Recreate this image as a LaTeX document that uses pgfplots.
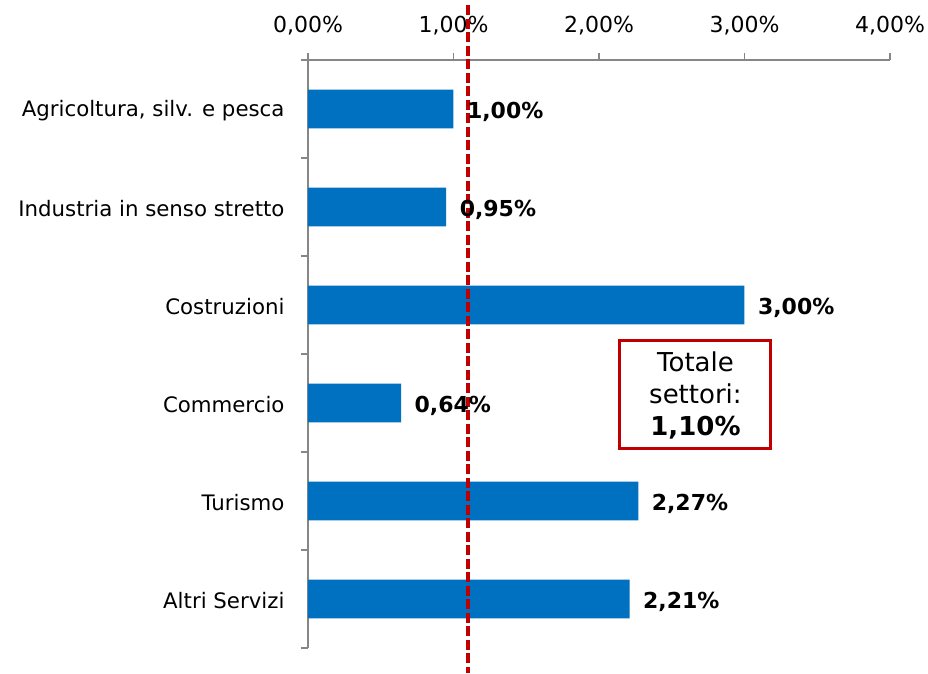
\documentclass[border=0pt]{standalone}
\usepackage{pgfplots}
\pgfplotsset{compat=1.18}
\usepackage{fontspec}
\setmainfont{DejaVu Sans}
\definecolor{barblue}{HTML}{0070C0}
\definecolor{axgray}{HTML}{868686}
\definecolor{refred}{HTML}{C00000}
\begin{document}
\begin{tikzpicture}
\begin{axis}[
  scale only axis, width=582pt, height=588pt,
  xmin=0, xmax=4, ymin=-0.5, ymax=5.5, y dir=reverse,
  axis x line*=top, axis y line*=left,
  axis line style={axgray, line width=1.7pt},
  tick align=outside, major tick length=7pt,
  tick style={axgray, line width=1.7pt},
  xtick={0,1,2,3,4},
  xticklabels={{0,00\%},{1,00\%},{2,00\%},{3,00\%},{4,00\%}},
  xticklabel style={font=\fontsize{22}{26}\selectfont, yshift=14pt},
  ytick={-0.5,0.5,1.5,2.5,3.5,4.5,5.5},
  yticklabels={},
  extra y ticks={0,1,2,3,4,5},
  extra y tick labels={{Agricoltura, silv. e pesca},{Industria in senso stretto},{Costruzioni},{Commercio},{Turismo},{Altri Servizi}},
  extra y tick style={tick style={draw=none}, yticklabel style={font=\fontsize{21.3}{25}\selectfont, xshift=-13pt, yshift=-2pt}},
  clip=false,
]
\addplot[xbar, bar width=38.7pt, fill=barblue, draw=none,
  point meta=x,
  nodes near coords={\pgfmathprintnumber[fixed,fixed zerofill,precision=2,use comma,assume math mode=true]{\pgfplotspointmeta}\%},
  nodes near coords align={horizontal},
  every node near coord/.append style={font=\bfseries\fontsize{22}{26}\selectfont, black, anchor=west, xshift=10pt, yshift=-2.5pt}]
  coordinates {(1.00,0) (0.95,1) (3.00,2) (0.64,3) (2.27,4) (2.21,5)};
\addplot[sharp plot, refred, line width=3.5pt, dash pattern=on 10pt off 3.5pt, forget plot]
  coordinates {(1.1,-1.06) (1.1,5.76)};
\node[draw=refred, line width=3pt, fill=white, minimum width=151pt, minimum height=108pt,
  align=center, inner sep=0pt, font=\fontsize{26}{32}\selectfont]
  at (axis cs:2.663,2.918) {Totale\\settori:\\\textbf{1,10\%}};
\end{axis}
\pgfresetboundingbox
\path (current axis.south west) ++(-308pt,-25pt) rectangle ++(928pt,673pt);
\end{tikzpicture}
\end{document}
